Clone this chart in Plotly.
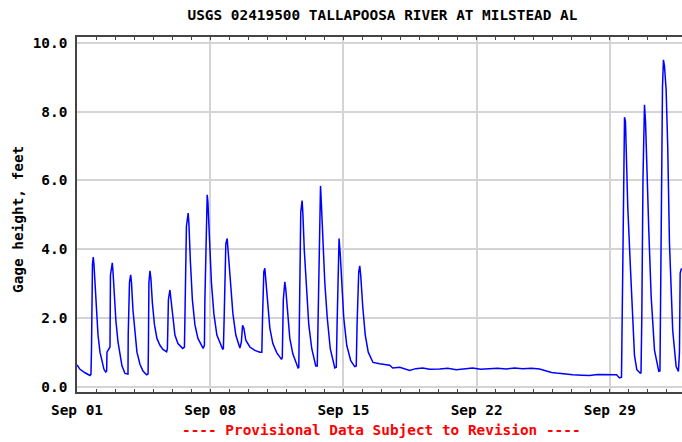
import pandas as pd
import plotly.graph_objects as go

# ---- data ----
start_date = "2019-09-01"
hours_since_start = [
    0, 3.8, 10.1, 16.4,
    17.6, 18.3, 19.5, 20.5, 21.4, 22.7, 24.6, 26.5, 29.0, 31.5, 34.0, 36.2,
    37.4, 37.8, 39.7, 41.6, 42.2, 44.5, 45.4, 47.3, 49.1, 51.7, 54.2, 56.7, 60.5,
    64.3, 64.6, 66.2, 67.7, 68.7, 70.6, 73.1, 75.6, 79.4, 83.2, 87.8,
    89.6, 90.0, 90.7, 92.0, 93.2, 95.1, 97.7, 100.8, 104.6, 108.4, 113.0,
    114.0, 115.3, 117.2, 118.4, 121.0, 123.5, 127.3, 133.2,
    135.5, 136.1, 138.0, 140.2, 141.1, 143.0, 145.5, 148.7, 152.5, 159.1,
    160.7, 161.3, 163.2, 164.2, 165.1, 167.0, 169.5, 172.6, 176.4, 183.6,
    184.6, 185.6, 187.7, 189.4, 190.9, 193.4, 196.6, 200.3, 205.4,
    207.3, 208.8, 210.4, 212.9, 218.0, 224.3, 230.6,
    233.1, 234.0, 235.6, 236.9, 238.1, 240.7, 243.2, 247.0, 252.0, 257.9,
    258.9, 260.2, 262.1, 263.3, 265.9, 268.4, 272.2, 276.0, 278.8,
    279.7, 280.1, 282.2, 283.9, 284.8, 286.7, 289.2, 292.3, 296.1, 301.1,
    303.0, 304.0, 306.2, 307.1, 308.1, 310.0, 312.5, 315.6, 319.4, 325.1,
    327.0, 328.0, 329.5, 330.5, 332.0, 333.9, 336.4, 340.2, 345.2, 350.3,
    352.2, 353.2, 355.3, 356.6, 357.8, 360.4, 363.5, 367.3, 373.3,
    381.8, 394.4, 398.2, 407.0, 419.6, 427.1, 435.9, 444.8, 457.4, 467.5,
    478.4, 488.9, 499.0, 509.0, 520.4, 530.4, 541.4, 551.9, 562.0, 573.3,
    583.4, 593.5, 598.5, 604.4, 614.9, 625.3, 636.3, 646.4, 656.5, 667.4,
    676.6, 680.4, 684.2, 686.7,
    687.1, 688.6, 690.5, 691.7, 693.0, 694.6, 697.7, 701.0, 703.1, 706.0, 710.3,
    711.3, 712.3, 713.8, 715.7, 717.0, 718.6, 721.1, 724.1, 728.3, 733.7,
    735.2, 735.8, 737.1, 738.4, 739.6, 740.9, 743.0, 745.0, 747.2, 751.3, 755.6, 758.5,
    759.8, 760.7, 762.3,
]
gage_height_ft = [
    0.63, 0.50, 0.40, 0.32,
    0.35, 1.1, 3.55, 3.77, 3.55, 2.93, 2.02, 1.5, 1.0, 0.7, 0.5, 0.42,
    0.45, 1.0, 1.08, 1.15, 3.24, 3.6, 3.34, 2.63, 1.9, 1.3, 0.9, 0.6, 0.38,
    0.36, 1.5, 3.03, 3.25, 3.03, 2.22, 1.5, 1.0, 0.65, 0.45, 0.34,
    0.36, 1.0, 3.03, 3.37, 3.14, 2.42, 1.8, 1.4, 1.2, 1.08, 1.01,
    1.1, 2.53, 2.81, 2.53, 1.9, 1.5, 1.25, 1.11,
    1.15, 2.0, 4.66, 5.05, 4.76, 3.64, 2.53, 1.8, 1.4, 1.11,
    1.2, 2.53, 5.17, 5.58, 5.37, 4.25, 3.03, 2.12, 1.5, 1.09,
    1.1, 2.0, 4.15, 4.31, 3.85, 2.93, 2.12, 1.5, 1.12,
    1.3, 1.78, 1.7, 1.35, 1.15, 1.05, 1.0,
    1.0, 2.0, 3.34, 3.44, 3.14, 2.32, 1.7, 1.25, 0.98, 0.79,
    0.85, 2.53, 3.05, 2.83, 2.0, 1.4, 0.95, 0.68, 0.54,
    0.55, 1.5, 5.07, 5.41, 5.07, 3.95, 2.83, 1.8, 1.1, 0.60,
    0.6, 2.0, 5.57, 5.84, 5.37, 4.25, 3.03, 2.0, 1.1, 0.54,
    0.56, 1.8, 4.05, 4.31, 3.85, 2.93, 2.0, 1.2, 0.75, 0.58,
    0.6, 1.8, 3.34, 3.51, 3.24, 2.32, 1.5, 1.0, 0.70,
    0.66, 0.62, 0.54, 0.56, 0.47, 0.52, 0.54, 0.50, 0.51, 0.53,
    0.49, 0.52, 0.54, 0.50, 0.52, 0.53, 0.51, 0.54, 0.52, 0.53,
    0.51, 0.44, 0.41, 0.39, 0.36, 0.34, 0.33, 0.32, 0.35, 0.34,
    0.35, 0.34, 0.25, 0.27,
    1.06, 4.56, 7.84, 7.71, 6.49, 5.24, 3.59, 1.63, 0.9, 0.49, 0.39,
    0.4, 2.0, 6.08, 8.2, 7.71, 6.31, 4.56, 2.62, 1.06, 0.44,
    0.45, 2.0, 6.59, 8.72, 9.51, 9.33, 8.63, 6.99, 4.17, 1.63, 0.58, 0.44,
    1.0, 3.3, 3.44,
]
assert len(hours_since_start) == len(gage_height_ft)

y_ticks = [0, 2, 4, 6, 8, 10]
title_text = "USGS 02419500 TALLAPOOSA RIVER AT MILSTEAD AL"
y_title = "Gage height, feet"
footer_text = "---- Provisional Data Subject to Revision ----"

# ---- figure ----
t0 = pd.Timestamp(start_date)
times = t0 + pd.to_timedelta(hours_since_start, unit="h")
x_end = t0 + pd.Timedelta(hours=763)

FONT = "DejaVu Sans Mono"
FS = 14.4
W, H = 682, 442
ML, MT, MR, MB = 77, 37, 0, 50
PW, PH = W - ML - MR, H - MT - MB

fig = go.Figure(
    go.Scatter(x=times, y=gage_height_ft, mode="lines",
               line=dict(color="#0000ff", width=1.5), hoverinfo="skip")
)

fig.update_layout(
    width=W, height=H,
    margin=dict(l=ML, r=MR, t=MT, b=MB, pad=0, autoexpand=False),
    paper_bgcolor="white", plot_bgcolor="white",
    showlegend=False,
    font=dict(family=FONT, size=FS, color="black"),
    title=dict(text="<b>" + title_text + "</b>", x=382.5 / W, xanchor="center",
               y=1 - 14.5 / H, yanchor="middle", xref="container", yref="container",
               font=dict(family=FONT, size=FS, color="black"), automargin=False),
)

fig.update_xaxes(
    type="date", range=[t0, x_end], automargin=False,
    tick0=t0, dtick=7 * 86400000, tickformat="<b>%b %d</b>",
    showgrid=True, gridcolor="#d4d4d4", gridwidth=2,
    ticks="inside", ticklen=3, tickcolor="#444",
    minor=dict(dtick=86400000, ticks="inside", ticklen=3, tickcolor="#444", showgrid=False),
    showline=True, linecolor="#444", linewidth=1.5, mirror="allticks",
    zeroline=False,
    tickfont=dict(family=FONT, size=FS, color="black"),
    ticklabelstandoff=4,
)
fig.update_yaxes(
    range=[-0.16, 10.175], automargin=False,
    tickvals=y_ticks, ticktext=["<b>%.1f</b>" % v for v in y_ticks],
    showgrid=True, gridcolor="#d4d4d4", gridwidth=2,
    ticks="", showline=True, linecolor="#444", linewidth=1.5, mirror=True,
    zeroline=False,
    tickfont=dict(family=FONT, size=FS, color="black"),
    ticklabelstandoff=5,
)

fig.add_annotation(
    text="<b>" + y_title + "</b>", textangle=-90,
    xref="paper", yref="paper", x=(18 - ML) / PW, y=(H - MB - 220) / PH,
    xanchor="center", yanchor="middle", showarrow=False,
    font=dict(family=FONT, size=FS, color="black"),
)
fig.add_annotation(
    text="<b>" + footer_text + "</b>",
    xref="paper", yref="paper", x=(381 - ML) / PW, y=((H - MB) - 430) / PH,
    xanchor="center", yanchor="middle", showarrow=False,
    font=dict(family=FONT, size=FS, color="#ff0000"),
)

fig.write_html("out.html", config={"displayModeBar": False},
               post_script="document.body.style.margin='0';")
